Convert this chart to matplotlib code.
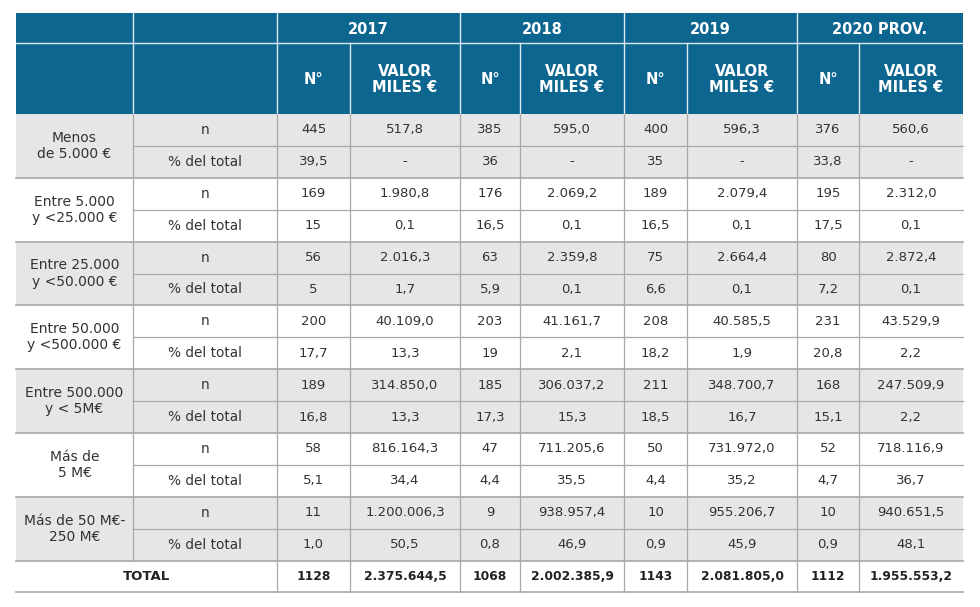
import matplotlib.pyplot as plt
from matplotlib.patches import Rectangle

# Table content

years = ["2017", "2018", "2019", "2020 PROV."]
sub_headers = ["N°", "VALOR\nMILES €"]

groups = [
    "Menos\nde 5.000 €",
    "Entre 5.000\ny <25.000 €",
    "Entre 25.000\ny <50.000 €",
    "Entre 50.000\ny <500.000 €",
    "Entre 500.000\ny < 5M€",
    "Más de\n5 M€",
    "Más de 50 M€-\n250 M€",
]
row_kinds = ["n", "% del total"]

values_n = [
    ["445", "517,8", "385", "595,0", "400", "596,3", "376", "560,6"],
    ["169", "1.980,8", "176", "2.069,2", "189", "2.079,4", "195", "2.312,0"],
    ["56", "2.016,3", "63", "2.359,8", "75", "2.664,4", "80", "2.872,4"],
    ["200", "40.109,0", "203", "41.161,7", "208", "40.585,5", "231", "43.529,9"],
    ["189", "314.850,0", "185", "306.037,2", "211", "348.700,7", "168", "247.509,9"],
    ["58", "816.164,3", "47", "711.205,6", "50", "731.972,0", "52", "718.116,9"],
    ["11", "1.200.006,3", "9", "938.957,4", "10", "955.206,7", "10", "940.651,5"],
]
values_pct = [
    ["39,5", "-", "36", "-", "35", "-", "33,8", "-"],
    ["15", "0,1", "16,5", "0,1", "16,5", "0,1", "17,5", "0,1"],
    ["5", "1,7", "5,9", "0,1", "6,6", "0,1", "7,2", "0,1"],
    ["17,7", "13,3", "19", "2,1", "18,2", "1,9", "20,8", "2,2"],
    ["16,8", "13,3", "17,3", "15,3", "18,5", "16,7", "15,1", "2,2"],
    ["5,1", "34,4", "4,4", "35,5", "4,4", "35,2", "4,7", "36,7"],
    ["1,0", "50,5", "0,8", "46,9", "0,9", "45,9", "0,9", "48,1"],
]
totals = ["1128", "2.375.644,5", "1068", "2.002.385,9", "1143", "2.081.805,0", "1112", "1.955.553,2"]

# Layout (pixels)
col_edges = [16, 133, 277, 350, 460, 520, 624, 687, 797, 859, 963]
head_top, head_mid, head_bot = 13, 43, 114
row_h = 31.9

BLUE = "#0c6690"
GRAY = "#e6e6e6"
LINE = "#a8a8a8"
TEXT = "#333333"

plt.rcParams["font.family"] = ["DejaVu Sans"]


def main():
    fig = plt.figure(figsize=(9.8, 6.07), dpi=100)
    ax = fig.add_axes([0, 0, 1, 1])
    ax.set_xlim(0, 980)
    ax.set_ylim(607, 0)
    ax.axis("off")

    left, right = col_edges[0], col_edges[-1]

    # header
    ax.add_patch(Rectangle((left, head_top), right - left, head_bot - head_top,
                           facecolor=BLUE, edgecolor="none"))
    ax.plot([left, right], [head_mid, head_mid], color="#dce9f0", lw=1)
    for i in [1, 2, 4, 6, 8]:
        ax.plot([col_edges[i]] * 2, [head_top, head_bot], color="#dce9f0", lw=1)
    for i in [3, 5, 7, 9]:
        ax.plot([col_edges[i]] * 2, [head_mid, head_bot], color="#dce9f0", lw=1)

    for k, yr in enumerate(years):
        x0, x1 = col_edges[2 + 2 * k], col_edges[4 + 2 * k]
        ax.text((x0 + x1) / 2, (head_top + head_mid) / 2 + 1, yr, color="white",
                fontsize=10.5, fontweight="bold", ha="center", va="center")
        for j, sh in enumerate(sub_headers):
            xa, xb = col_edges[2 + 2 * k + j], col_edges[3 + 2 * k + j]
            ax.text((xa + xb) / 2, (head_mid + head_bot) / 2 + 1, sh, color="white",
                    fontsize=10.5, fontweight="bold", ha="center", va="center",
                    linespacing=1.0)

    # body
    n_rows = 2 * len(groups)
    for g, label in enumerate(groups):
        y0 = head_bot + 2 * g * row_h
        if g % 2 == 0:
            ax.add_patch(Rectangle((left, y0), right - left, 2 * row_h,
                                   facecolor=GRAY, edgecolor="none"))
        ax.text((col_edges[0] + col_edges[1]) / 2, y0 + row_h, label, color=TEXT,
                fontsize=10, ha="center", va="center", linespacing=1.2)
        for r, (kind, vals) in enumerate(zip(row_kinds, [values_n[g], values_pct[g]])):
            yc = y0 + (r + 0.5) * row_h
            ax.text((col_edges[1] + col_edges[2]) / 2, yc, kind, color=TEXT,
                    fontsize=9.8, ha="center", va="center")
            for c, v in enumerate(vals):
                ax.text((col_edges[2 + c] + col_edges[3 + c]) / 2, yc, v, color=TEXT,
                        fontsize=9.5, ha="center", va="center")
        # lines
        ax.plot([col_edges[1], right], [y0 + row_h] * 2, color=LINE, lw=0.9)
        ax.plot([left, right], [y0 + 2 * row_h] * 2, color=LINE, lw=1.2)

    body_bot = head_bot + n_rows * row_h
    total_bot = body_bot + row_h
    ax.text((col_edges[0] + col_edges[2]) / 2, body_bot + row_h / 2, "TOTAL",
            color="#222222", fontsize=9.5, fontweight="bold", ha="center", va="center")
    for c, v in enumerate(totals):
        ax.text((col_edges[2 + c] + col_edges[3 + c]) / 2, body_bot + row_h / 2, v,
                color="#222222", fontsize=8.8, fontweight="bold", ha="center", va="center")
    ax.plot([left, right], [total_bot] * 2, color=LINE, lw=1.2)

    ax.plot([col_edges[1]] * 2, [head_bot, body_bot], color=LINE, lw=0.9)
    for i in range(2, len(col_edges) - 1):
        ax.plot([col_edges[i]] * 2, [head_bot, total_bot], color=LINE, lw=0.9)

    fig.savefig("out.png", dpi=100)


if __name__ == "__main__":
    main()
